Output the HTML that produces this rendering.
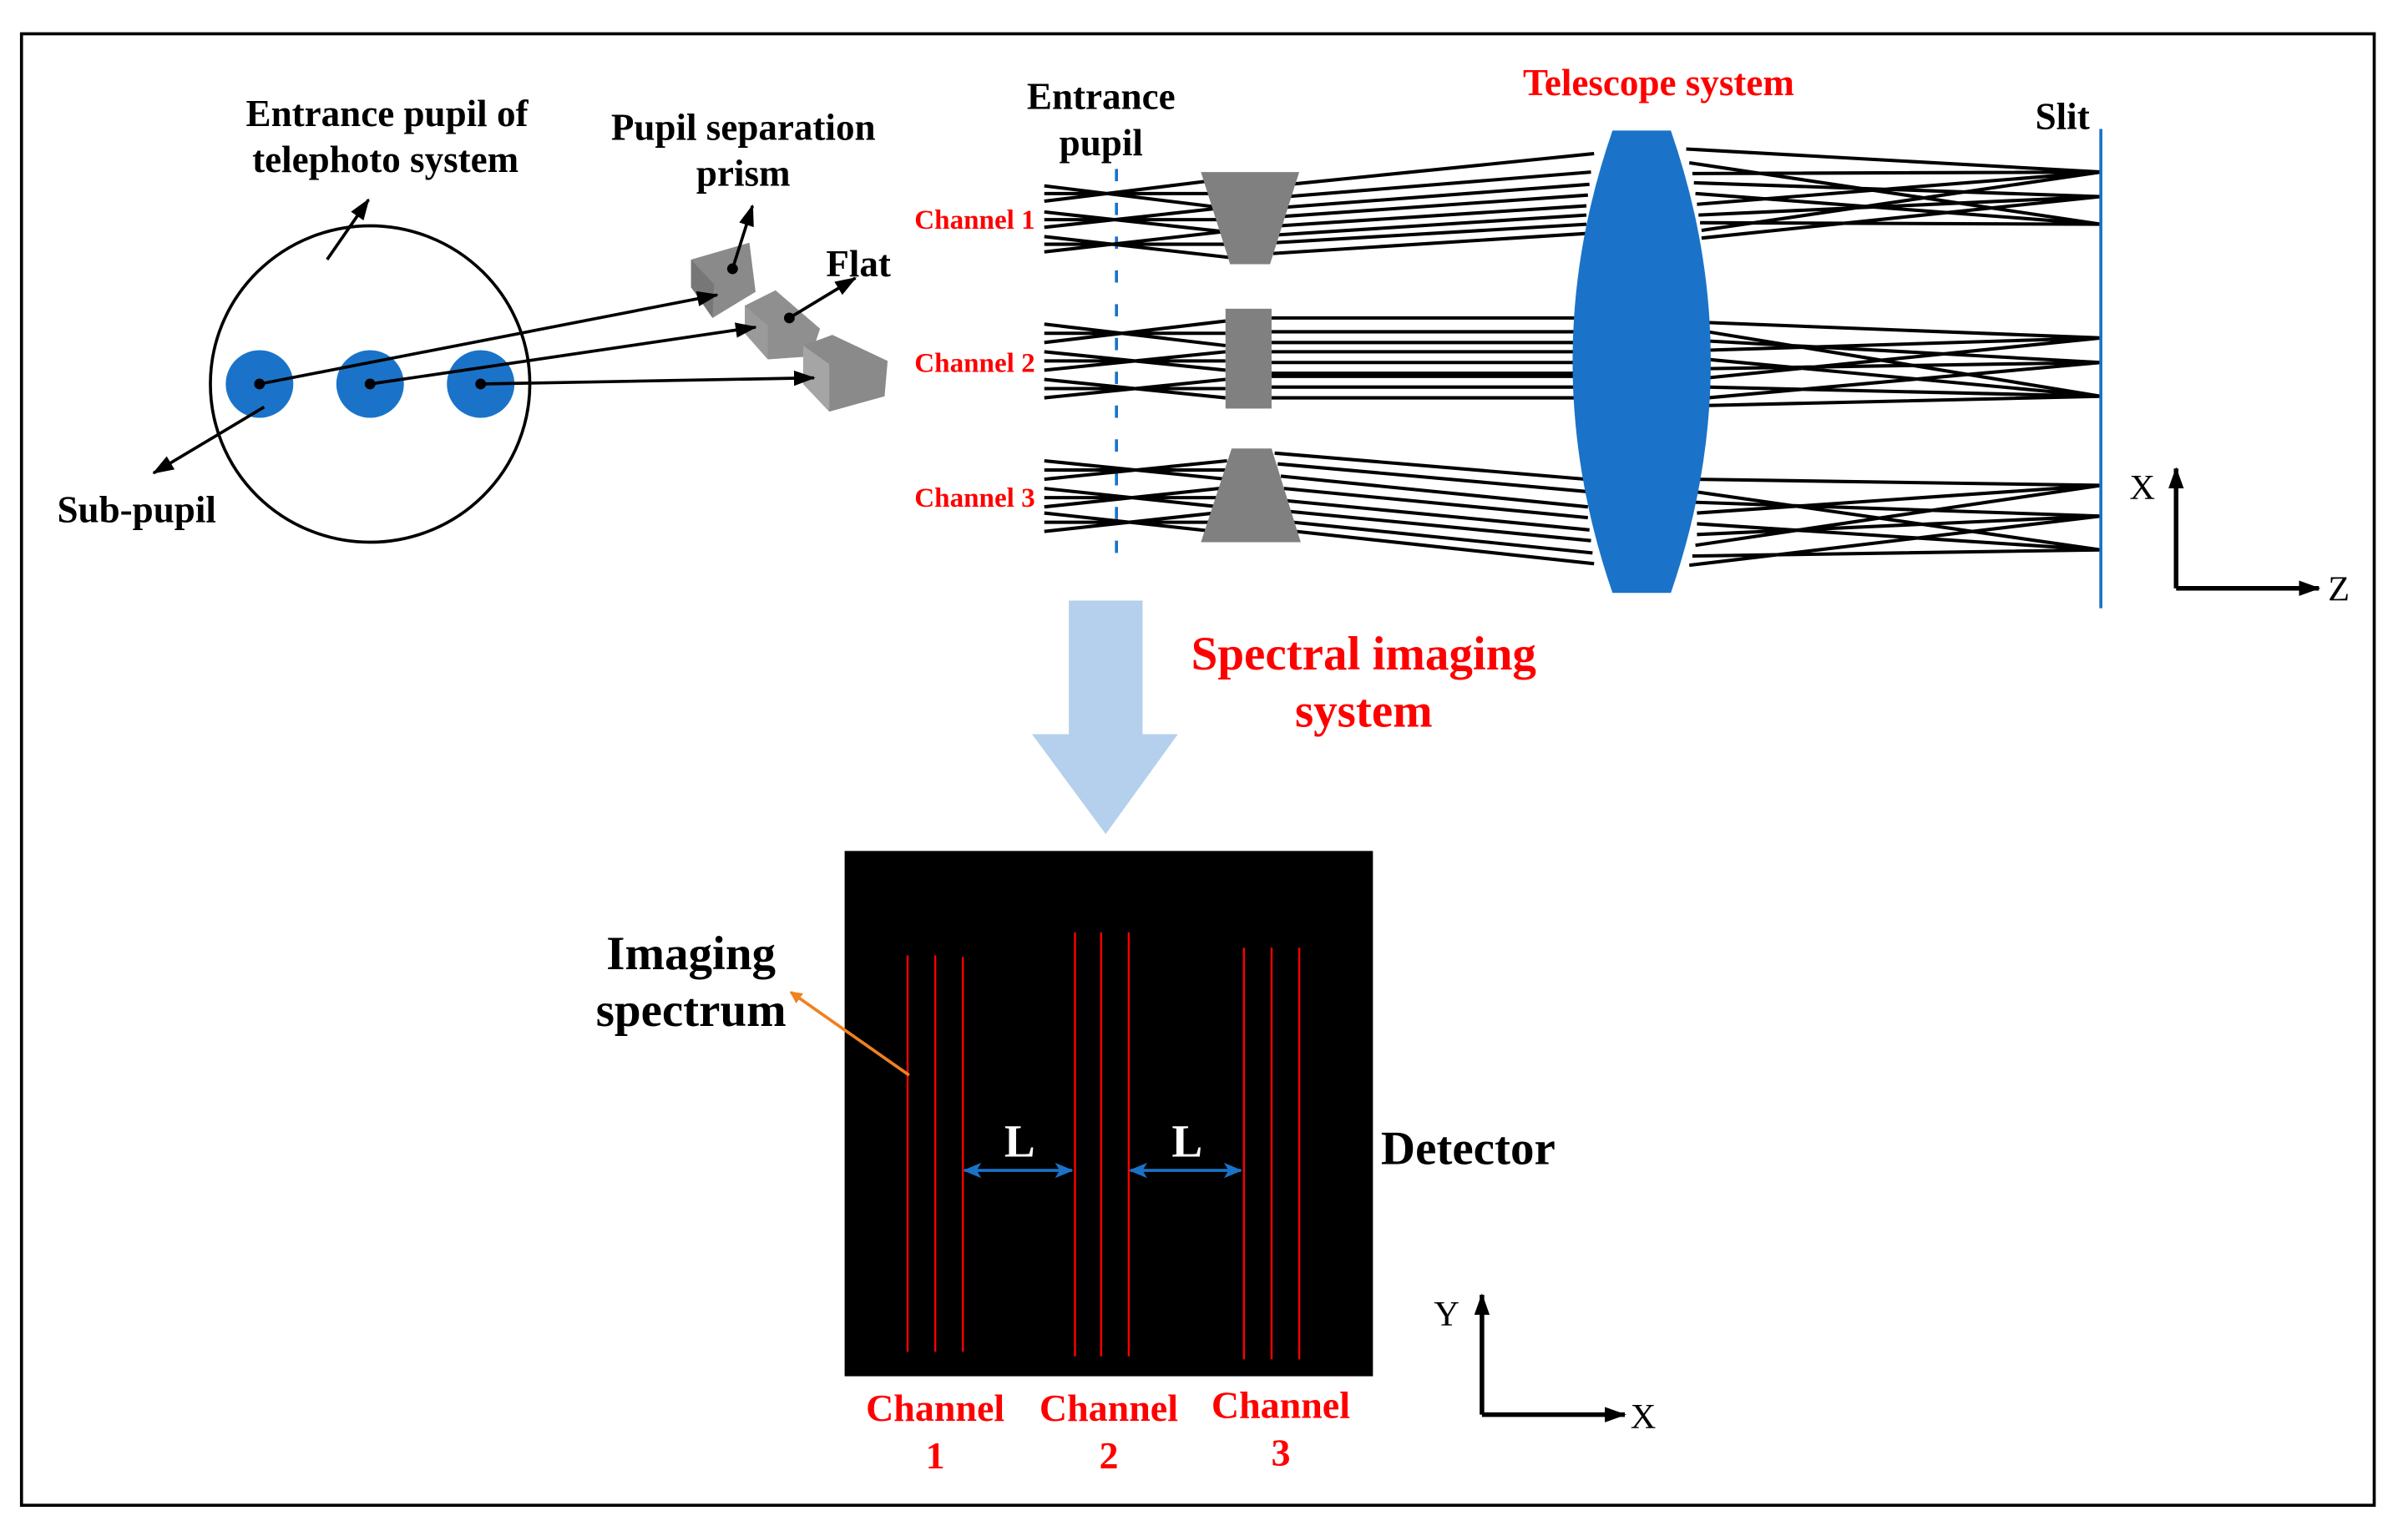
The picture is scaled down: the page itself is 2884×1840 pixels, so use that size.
<!DOCTYPE html>
<html><head><meta charset="utf-8"><style>
html,body{margin:0;padding:0;background:#fff;width:2884px;height:1840px;overflow:hidden}
svg{display:block}
text{font-family:"Liberation Serif",serif;font-weight:bold}
</style></head><body>
<svg width="2884" height="1840" viewBox="0 0 1568 1000" preserveAspectRatio="none" xmlns="http://www.w3.org/2000/svg">
<defs>
<marker id="ab" markerWidth="14" markerHeight="10" refX="13" refY="5" orient="auto" markerUnits="userSpaceOnUse"><path d="M0,0 L14,5 L0,10 z" fill="#000"/></marker>
<marker id="abl" markerWidth="12" markerHeight="10" refX="11" refY="5" orient="auto-start-reverse" markerUnits="userSpaceOnUse"><path d="M0,0 L12,5 L0,10 L3,5 z" fill="#1a73c8"/></marker>
<marker id="aor" markerWidth="8" markerHeight="8" refX="7" refY="4" orient="auto" markerUnits="userSpaceOnUse"><path d="M0,0 L8,4 L0,8 z" fill="#f08020"/></marker>
</defs>
<rect x="14" y="22" width="1532" height="958" fill="none" stroke="#000" stroke-width="2"/>

<!-- left pupil diagram -->
<ellipse cx="241" cy="250" rx="104" ry="103" fill="none" stroke="#000" stroke-width="2"/>
<circle cx="169" cy="250" r="22" fill="#1a73c8"/>
<circle cx="241" cy="250" r="22" fill="#1a73c8"/>
<circle cx="313" cy="250" r="22" fill="#1a73c8"/>
<!-- prisms -->
<polygon points="450,169 488,158 492,190 464,207 450,187" fill="#8a8a8a"/>
<polygon points="450,169 465,185 464,207 450,187" fill="#777"/>
<polygon points="485,199 505,189 534,214 528,232 500,234 485,217" fill="#8f8f8f"/>
<polygon points="485,199 500,212 500,234 485,217" fill="#9a9a9a"/>
<polygon points="523,225 542,218 578,235 576,258 540,268 523,250" fill="#8a8a8a"/>
<polygon points="523,225 540,237 540,268 523,250" fill="#a5a5a5"/>
<g stroke="#000" stroke-width="2" fill="none">
<line x1="169" y1="250" x2="467" y2="192" marker-end="url(#ab)"/>
<line x1="241" y1="250" x2="492" y2="213" marker-end="url(#ab)"/>
<line x1="313" y1="250" x2="530" y2="246" marker-end="url(#ab)"/>
<line x1="172" y1="265" x2="100" y2="308" marker-end="url(#ab)"/>
<line x1="213" y1="169" x2="240" y2="130" marker-end="url(#ab)"/>
<line x1="477" y1="175" x2="490" y2="134" marker-end="url(#ab)"/>
<line x1="514" y1="207" x2="557" y2="181" marker-end="url(#ab)"/>
</g>
<g fill="#000"><circle cx="169" cy="250" r="3.5"/><circle cx="241" cy="250" r="3.5"/><circle cx="313" cy="250" r="3.5"/><circle cx="477" cy="175" r="3.5"/><circle cx="514" cy="207" r="3.5"/></g>
<text x="252" y="82" font-size="24.5" text-anchor="middle">Entrance pupil of</text>
<text x="251" y="112" font-size="24.5" text-anchor="middle">telephoto system</text>
<text x="484" y="91" font-size="24.5" text-anchor="middle">Pupil separation</text>
<text x="484" y="121" font-size="24.5" text-anchor="middle">prism</text>
<text x="559" y="180" font-size="24.5" text-anchor="middle">Flat</text>
<text x="89" y="340" font-size="24.5" text-anchor="middle">Sub-pupil</text>

<!-- optical system -->
<text x="717" y="71" font-size="24.5" text-anchor="middle">Entrance</text>
<text x="717" y="101" font-size="24.5" text-anchor="middle">pupil</text>
<text x="1080" y="62" font-size="24.5" text-anchor="middle" fill="#f00">Telescope system</text>
<text x="1343" y="84" font-size="24.5" text-anchor="middle">Slit</text>
<text x="674" y="149" font-size="18" text-anchor="end" fill="#f00">Channel 1</text>
<text x="674" y="242" font-size="18" text-anchor="end" fill="#f00">Channel 2</text>
<text x="674" y="330" font-size="18" text-anchor="end" fill="#f00">Channel 3</text>

<line x1="727" y1="110" x2="727" y2="360" stroke="#1a73c8" stroke-width="2" stroke-dasharray="8,14"/>

<g stroke="#000" stroke-width="2.2" fill="none">
<path d="M680,121 L794,135 M680,131 L794,117 M680,126 L794,126
M680,138 L799,151 M680,148 L799,135 M680,143 L799,143
M680,154 L804,168 M680,164 L804,150 M680,159 L804,159"/>
<path d="M840,120 L1038,100 M838,128 L1036,112 M836,135 L1035,120 M834,141 L1034,127 M833,147 L1033,134 M831,153 L1033,140 M830,158 L1033,146 M829,165 L1033,152"/>
<path d="M1098,97 L1368,112 M1100,106 L1368,146 M1102,113 L1368,112 M1103,119 L1368,128 M1104,126 L1368,146 M1105,133 L1368,112 M1106,140 L1368,128 M1107,145 L1368,146 M1108,150 L1368,112 M1108,155 L1368,128"/>
<path d="M680,211 L798,225 M680,223 L798,209 M680,217 L798,217
M680,229 L798,241 M680,241 L798,229 M680,235 L798,235
M680,247 L798,259 M680,259 L798,247 M680,253 L798,253"/>
<path d="M828,207 L1030,207 M828,216 L1030,216 M828,223 L1030,223 M828,229 L1030,229 M828,236 L1030,236 M828,243 L1030,243 M828,245 L1030,245 M828,252 L1030,252 M828,259 L1030,259"/>
<path d="M1112,210 L1368,220 M1112,216 L1368,258 M1112,222 L1368,236 M1112,228 L1368,220 M1112,234 L1368,258 M1112,240 L1368,236 M1112,246 L1368,220 M1112,252 L1368,258 M1112,259 L1368,236 M1112,264 L1368,258"/>
<path d="M680,300 L799,312 M680,312 L799,300 M680,306 L799,306
M680,318 L794,330 M680,330 L794,318 M680,324 L794,324
M680,334 L791,346 M680,346 L791,334 M680,340 L791,340"/>
<path d="M830,295 L1033,312 M832,302 L1033,320 M834,310 L1034,330 M836,318 L1034,337 M838,326 L1035,345 M840,333 L1036,352 M842,340 L1037,360 M844,346 L1038,367"/>
<path d="M1102,312 L1368,316 M1103,320 L1368,358 M1104,327 L1368,336 M1105,334 L1368,316 M1105,341 L1368,358 M1105,348 L1368,336 M1104,355 L1368,316 M1102,362 L1368,358 M1100,368 L1368,336"/>
</g>
<polygon points="782,112 846,112 827,172 801,172" fill="#808080"/>
<rect x="798" y="201" width="30" height="65" fill="#808080"/>
<polygon points="802,292 828,292 847,353 782,353" fill="#808080"/>
<!-- lens -->
<path d="M1050,85 L1088,85 Q1140,235 1088,386 L1050,386 Q998,235 1050,85 z" fill="#1a73c8"/>
<line x1="1368" y1="84" x2="1368" y2="396" stroke="#1a73c8" stroke-width="2"/>
<g stroke="#000" stroke-width="3" fill="none">
<line x1="1417" y1="383" x2="1417" y2="305" marker-end="url(#ab)"/>
<line x1="1417" y1="383" x2="1510" y2="383" marker-end="url(#ab)"/>
</g>
<text x="1395" y="325" font-size="23" style="font-weight:normal" text-anchor="middle">X</text>
<text x="1523" y="391" font-size="23" style="font-weight:normal" text-anchor="middle">Z</text>

<rect x="696" y="391" width="48" height="88" fill="#b4d0ec"/>
<polygon points="672,478 767,478 720,543" fill="#b4d0ec"/>
<text x="888" y="436" font-size="31" text-anchor="middle" fill="#f00">Spectral imaging</text>
<text x="888" y="473" font-size="31" text-anchor="middle" fill="#f00">system</text>

<rect x="550" y="554" width="344" height="342" fill="#000"/>
<g stroke="#f00" stroke-width="1.3">
<line x1="591" y1="622" x2="591" y2="880"/><line x1="609" y1="622" x2="609" y2="880"/><line x1="627" y1="623" x2="627" y2="880"/>
<line x1="700" y1="607" x2="700" y2="883"/><line x1="717" y1="607" x2="717" y2="883"/><line x1="735" y1="607" x2="735" y2="883"/>
<line x1="810" y1="617" x2="810" y2="885"/><line x1="828" y1="617" x2="828" y2="885"/><line x1="846" y1="617" x2="846" y2="885"/>
</g>
<g stroke="#1a73c8" stroke-width="2">
<line x1="628" y1="762" x2="698" y2="762" marker-start="url(#abl)" marker-end="url(#abl)"/>
<line x1="736" y1="762" x2="808" y2="762" marker-start="url(#abl)" marker-end="url(#abl)"/>
</g>
<text x="664" y="753" font-size="30" fill="#fff" text-anchor="middle">L</text>
<text x="773" y="753" font-size="30" fill="#fff" text-anchor="middle">L</text>
<line x1="592" y1="700" x2="515" y2="646" stroke="#f08020" stroke-width="2" marker-end="url(#aor)"/>
<text x="450" y="631" font-size="31" text-anchor="middle">Imaging</text>
<text x="450" y="668" font-size="31" text-anchor="middle">spectrum</text>
<text x="956" y="758" font-size="31" text-anchor="middle">Detector</text>
<text x="609" y="925" font-size="25" fill="#f00" text-anchor="middle">Channel</text>
<text x="609" y="956" font-size="25" fill="#f00" text-anchor="middle">1</text>
<text x="722" y="925" font-size="25" fill="#f00" text-anchor="middle">Channel</text>
<text x="722" y="956" font-size="25" fill="#f00" text-anchor="middle">2</text>
<text x="834" y="923" font-size="25" fill="#f00" text-anchor="middle">Channel</text>
<text x="834" y="954" font-size="25" fill="#f00" text-anchor="middle">3</text>

<g stroke="#000" stroke-width="3" fill="none">
<line x1="965" y1="921" x2="965" y2="843" marker-end="url(#ab)"/>
<line x1="965" y1="921" x2="1058" y2="921" marker-end="url(#ab)"/>
</g>
<text x="942" y="863" font-size="23" style="font-weight:normal" text-anchor="middle">Y</text>
<text x="1070" y="930" font-size="23" style="font-weight:normal" text-anchor="middle">X</text>
</svg>
</body></html>
